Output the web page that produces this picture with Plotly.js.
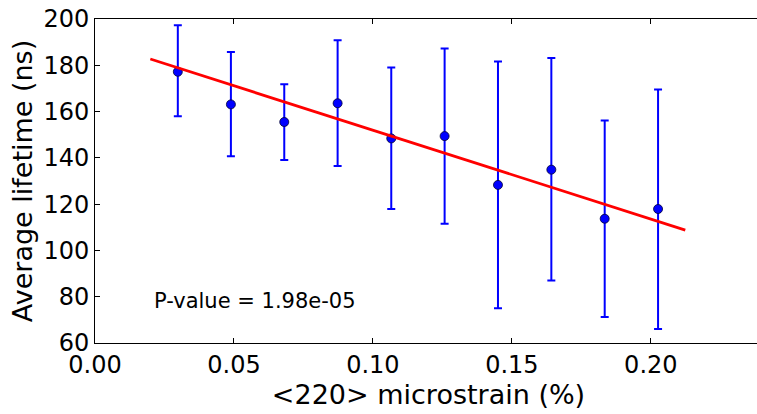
<!DOCTYPE html>
<html>
<head>
<meta charset="utf-8">
<script src="https://cdn.plot.ly/plotly-3.0.1.min.js"></script>
<style>
html,body{margin:0;padding:0;overflow:hidden;background:#fff;}
#chart{width:770px;height:414px;}
</style>
</head>
<body>
<div id="chart"></div>
<script>
// Data
const strain = [0.0298, 0.0489, 0.0681, 0.0873, 0.1066, 0.1258, 0.1450, 0.1642, 0.1834, 0.2026];
const lifetime = [177.2, 163.1, 155.5, 163.6, 148.4, 149.4, 128.3, 134.9, 113.7, 117.9];
const errUpper = [197.3, 185.7, 171.8, 190.8, 179.0, 187.2, 181.6, 183.1, 156.1, 169.5];
const errLower = [158.0, 140.7, 139.1, 136.5, 117.9, 111.5, 75.0, 87.0, 71.2, 66.0];
const fitX = [0.0199, 0.2124];
const fitY = [182.7, 108.8];
const xTicks = [0.00, 0.05, 0.10, 0.15, 0.20];
const yTicks = [60, 80, 100, 120, 140, 160, 180, 200];
const pLabel = "P-value = 1.98e-05";

const plus = errUpper.map((u, i) => u - lifetime[i]);
const minus = errLower.map((l, i) => lifetime[i] - l);

const font = "DejaVu Sans, sans-serif";

const traces = [
  {
    x: strain, y: lifetime, type: 'scatter', mode: 'markers',
    marker: {color: '#0000ff', size: 9, line: {color: '#000033', width: 0.8}},
    error_y: {type: 'data', symmetric: false, array: plus, arrayminus: minus,
      color: '#0000ff', thickness: 2, width: 4},
    showlegend: false, hoverinfo: 'none'
  },
  {
    x: fitX, y: fitY, type: 'scatter', mode: 'lines',
    line: {color: '#ff0000', width: 2.8},
    showlegend: false, hoverinfo: 'none'
  }
];

const layout = {
  width: 770, height: 414,
  margin: {l: 95, r: 8, t: 19, b: 71},
  paper_bgcolor: '#fff', plot_bgcolor: '#fff',
  font: {family: font, color: '#000'},
  xaxis: {
    range: [0, 0.24], tickvals: xTicks, ticktext: xTicks.map(v => v.toFixed(2)),
    ticks: 'inside', ticklen: 5, tickwidth: 1, tickcolor: '#000',
    showline: true, linecolor: '#000', linewidth: 1, mirror: 'ticks',
    showgrid: false, zeroline: false,
    tickfont: {family: font, size: 24, color: '#000'},
    title: {text: '<220> microstrain (%)', font: {family: font, size: 27, color: '#000'}, standoff: 2}
  },
  yaxis: {
    range: [60, 200], tickvals: yTicks,
    ticks: 'inside', ticklen: 5, tickwidth: 1, tickcolor: '#000',
    showline: true, linecolor: '#000', linewidth: 1, mirror: 'ticks',
    showgrid: false, zeroline: false,
    tickfont: {family: font, size: 24, color: '#000'},
    title: {text: 'Average lifetime (ns)', font: {family: font, size: 27, color: '#000'}, standoff: 2}
  },
  annotations: [{
    x: 0.0205, y: 78, xref: 'x', yref: 'y', xanchor: 'left', yanchor: 'middle',
    text: pLabel, showarrow: false, font: {family: font, size: 21, color: '#000'}
  }]
};

Plotly.newPlot('chart', traces, layout, {staticPlot: true, displayModeBar: false});
</script>
</body>
</html>
